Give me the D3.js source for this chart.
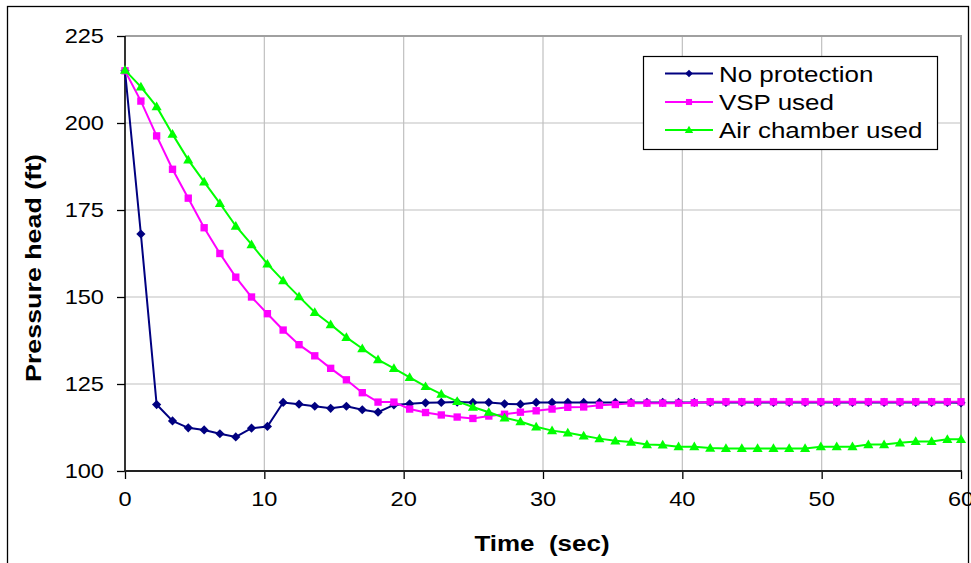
<!DOCTYPE html>
<html><head><meta charset="utf-8">
<script src="https://cdn.jsdelivr.net/npm/d3@7"></script>
<style>html,body{margin:0;padding:0;background:#fff;} svg{display:block;font-family:"Liberation Sans",Arial,sans-serif;}</style>
</head><body>
<svg id="chart" width="971" height="563"></svg>
<script>
// ---- data ----
const times = [0,1.14,2.27,3.41,4.54,5.68,6.81,7.95,9.08,10.22,11.35,12.49,13.62,14.76,15.89,17.03,18.16,19.30,20.43,21.57,22.70,23.84,24.97,26.11,27.24,28.38,29.51,30.65,31.78,32.92,34.05,35.19,36.32,37.46,38.59,39.73,40.86,42.00,43.13,44.27,45.40,46.54,47.67,48.81,49.94,51.08,52.21,53.35,54.48,55.62,56.75,57.89,59.02,60];
const noProtection = [215,168.1,119.1,114.4,112.4,111.8,110.7,109.8,112.3,112.8,119.7,119.2,118.6,118.0,118.6,117.6,116.9,119.0,119.3,119.6,119.7,119.8,119.7,119.7,119.3,119.2,119.7,119.7,119.7,119.7,119.7,119.7,119.7,119.7,119.7,119.7,119.7,119.7,119.7,119.7,119.7,119.7,119.7,119.7,119.7,119.7,119.7,119.7,119.7,119.7,119.7,119.7,119.7,119.6];
const vspUsed = [215,206.3,196.3,186.7,178.4,169.9,162.5,155.7,150.0,145.2,140.5,136.3,133.1,129.5,126.2,122.5,119.8,119.8,117.8,116.8,116.1,115.5,115.1,115.8,116.3,116.9,117.3,117.8,118.3,118.4,118.9,119.1,119.5,119.5,119.5,119.5,119.6,119.9,119.9,119.9,119.9,119.9,119.9,119.9,119.9,119.9,119.9,119.9,119.9,119.9,119.9,119.9,119.9,119.9];
const airChamber = [215.2,210.4,204.7,196.8,189.4,183.1,176.9,170.4,165.1,159.5,154.7,150.1,145.6,142.1,138.4,135.2,132.0,129.5,126.9,124.3,122.1,120.0,118.4,116.9,115.3,114.2,112.7,111.6,111.0,110.1,109.3,108.7,108.3,107.6,107.5,107.0,107.0,106.6,106.5,106.5,106.5,106.5,106.5,106.5,107.0,107.0,107.0,107.6,107.6,108.1,108.5,108.5,109.1,109.1];
const seriesNames = ["No protection","VSP used","Air chamber used"];
const seriesColors = ["#000080","#FF00FF","#00FF00"];
const seriesMarkers = ["diamond","square","triangle"];
const xTicks = [0,10,20,30,40,50,60];
const yTicks = [100,125,150,175,200,225];
const xTitle = "Time  (sec)";
const yTitle = "Pressure head (ft)";

// ---- layout ----
const svg = d3.select("#chart");
const L = 125, R = 961, T = 36, B = 471;
const x = d3.scaleLinear().domain([0,60]).range([L,R]);
const y = d3.scaleLinear().domain([100,225]).range([B,T]);
const SX = 1.18; // horizontal text stretch

svg.append("rect").attr("width",971).attr("height",563).attr("fill","#fff");
svg.append("rect").attr("x",7.5).attr("y",6.5).attr("width",961).attr("height",620)
  .attr("fill","none").attr("stroke","#000").attr("stroke-width",1.3);

// gridlines
const grid = svg.append("g");
grid.selectAll("line.v").data(xTicks.filter(d=>d>0&&d<60)).join("line")
  .attr("x1",d=>x(d)).attr("x2",d=>x(d)).attr("y1",T).attr("y2",B)
  .attr("stroke","#c0c0c0").attr("stroke-width",1.2);
grid.selectAll("line.h").data(yTicks.filter(d=>d>100&&d<225)).join("line")
  .attr("x1",L).attr("x2",R).attr("y1",d=>y(d)).attr("y2",d=>y(d))
  .attr("stroke","#c0c0c0").attr("stroke-width",1.2);
// plot border top/right
svg.append("path").attr("d",`M${L},${T}H${R}V${B}`).attr("fill","none")
  .attr("stroke","#a0a0a0").attr("stroke-width",2);

// axes
const yAxis = d3.axisLeft(y).tickValues(yTicks).tickSize(8).tickFormat("");
const xAxis = d3.axisBottom(x).tickValues(xTicks).tickSize(8).tickFormat("");
const gy = svg.append("g").attr("transform",`translate(${L},0)`).call(yAxis);
const gx = svg.append("g").attr("transform",`translate(0,${B})`).call(xAxis);
gy.select(".domain").remove(); gx.select(".domain").remove();
gy.selectAll(".tick line").attr("stroke","#000").attr("stroke-width",1.3);
gx.selectAll(".tick line").attr("stroke","#000").attr("stroke-width",1.3);
svg.append("line").attr("x1",L).attr("x2",L).attr("y1",T).attr("y2",B+1).attr("stroke","#000").attr("stroke-width",1.6);
svg.append("line").attr("x1",L-1).attr("x2",R+1).attr("y1",B).attr("y2",B).attr("stroke","#222").attr("stroke-width",2);

// tick labels
svg.append("g").selectAll("text").data(yTicks).join("text")
  .attr("transform",d=>`translate(104,${y(d)+7}) scale(${SX},1)`)
  .attr("text-anchor","end").attr("font-size",20).attr("fill","#000").text(d=>d);
svg.append("g").selectAll("text").data(xTicks).join("text")
  .attr("transform",d=>`translate(${x(d)},506) scale(${SX},1)`)
  .attr("text-anchor","middle").attr("font-size",20).attr("fill","#000").text(d=>d);

// titles
svg.append("text").attr("transform",`translate(542,551) scale(${SX},1)`)
  .attr("text-anchor","middle").attr("font-size",22).attr("font-weight","bold")
  .attr("xml:space","preserve").style("white-space","pre").text(xTitle);
svg.append("text").attr("transform",`translate(41,268) rotate(-90) scale(1.22,1)`)
  .attr("text-anchor","middle").attr("font-size",22).attr("font-weight","bold").text(yTitle);

// markers
function markerPath(type, s){
  if(type==="diamond") return `M0,${-s}L${s},0L0,${s}L${-s},0Z`;
  if(type==="square") return `M${-s*0.8},${-s*0.8}H${s*0.8}V${s*0.8}H${-s*0.8}Z`;
  return `M0,${-s*1.1}L${s*1.1},${s*0.8}L${-s*1.1},${s*0.8}Z`;
}

const allSeries = [noProtection, vspUsed, airChamber];
const line = d3.line().x((d,i)=>x(times[i])).y(d=>y(d));
allSeries.forEach((vals,k)=>{
  const g = svg.append("g");
  g.append("path").attr("d",line(vals)).attr("fill","none")
    .attr("stroke",seriesColors[k]).attr("stroke-width",2);
  g.selectAll("path.m").data(vals).join("path").attr("class","m")
    .attr("transform",(d,i)=>`translate(${x(times[i])},${y(d)})`)
    .attr("d",markerPath(seriesMarkers[k],4.6)).attr("fill",seriesColors[k]);
});

// legend
const lg = svg.append("g");
lg.append("rect").attr("x",643.5).attr("y",56.5).attr("width",294).attr("height",93)
  .attr("fill","#fff").attr("stroke","#000").attr("stroke-width",1.2);
const rows = [73.5,102,130];
seriesNames.forEach((n,k)=>{
  lg.append("line").attr("x1",665).attr("x2",713).attr("y1",rows[k]).attr("y2",rows[k])
    .attr("stroke",seriesColors[k]).attr("stroke-width",2);
  lg.append("path").attr("transform",`translate(689,${rows[k]})`)
    .attr("d",markerPath(seriesMarkers[k],3.8)).attr("fill",seriesColors[k]);
  lg.append("text").attr("transform",`translate(719,${rows[k]+8}) scale(${SX},1)`)
    .attr("font-size",22).attr("fill","#000").text(n);
});
</script>
</body></html>
